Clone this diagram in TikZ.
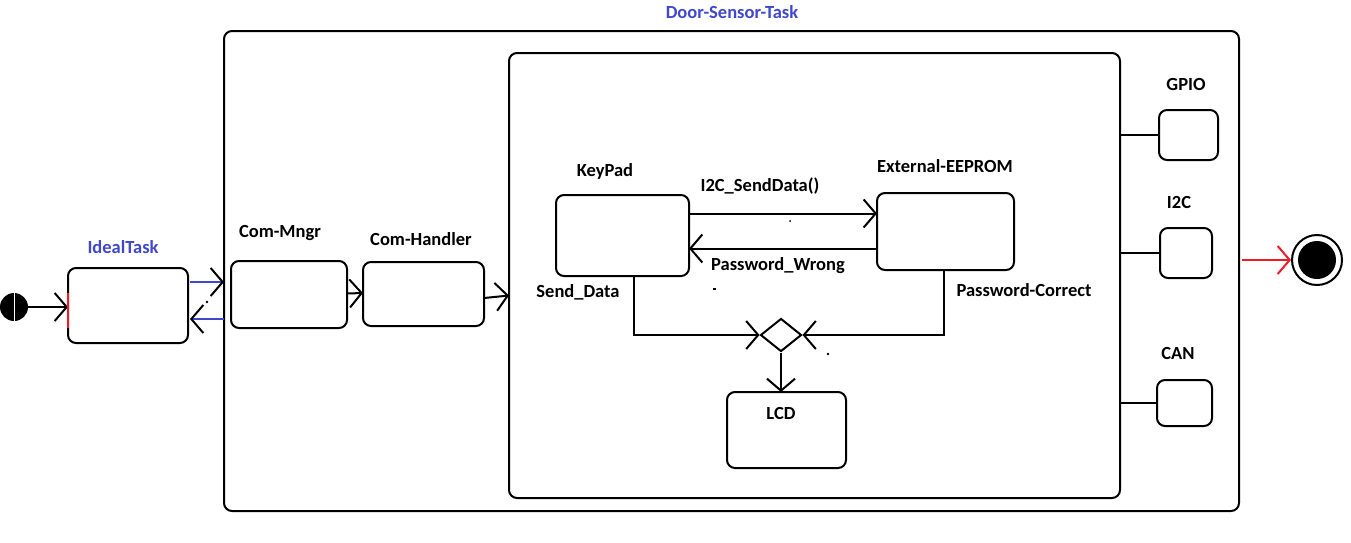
\documentclass[tikz,border=0pt]{standalone}
\usepackage{fontspec}
\setmainfont{Carlito}
\usetikzlibrary{arrows.meta,shapes.geometric}
\definecolor{pblue}{RGB}{63,72,204}
\definecolor{pred}{RGB}{237,28,36}
\tikzset{
  box/.style={draw, line width=2pt, rounded corners=8pt, inner sep=0pt, outer sep=0pt},
  lbl/.style={font=\fontsize{18.5}{22}\selectfont\bfseries, inner sep=0pt},
  con/.style={line width=2pt},
  tip/.style={-{Straight Barb[length=12pt,width=28pt,line width=2pt,#1]}},
  tip/.default={},
  arr/.style={line width=2pt, tip},
}
\begin{document}
\begin{tikzpicture}[x=1pt,y=-1pt]
\useasboundingbox (0,0) rectangle (1351,542);
% containers
\node[box, minimum width=1015pt, minimum height=480pt] (outer) at (731.5,271) {};
\node[box, minimum width=611pt, minimum height=445pt] (inner) at (814.5,275.5) {};
\node[lbl, text=pblue] (title) at (732,12) {Door-Sensor-Task};
% initial
\node[circle, fill=black, minimum size=28pt, inner sep=0pt] (init) at (14,307) {};
\draw[white, line width=1pt] (init.north) -- (init.south);
% states
\node[box, minimum width=120pt, minimum height=75pt] (ideal) at (128,305.5) {};
\node[lbl, text=pblue] (idealL) at (123,247) {IdealTask};
\node[box, minimum width=116pt, minimum height=67pt] (comm) at (289,294.5) {};
\node[lbl] (commL) at (280,233) {Com-Mngr};
\node[box, minimum width=121pt, minimum height=64pt] (comh) at (423.5,294) {};
\node[lbl] (comhL) at (421,239) {Com-Handler};
\node[box, minimum width=133pt, minimum height=81pt] (kp) at (622.5,235.5) {};
\node[lbl] (kpL) at (605,171) {KeyPad};
\node[box, minimum width=137pt, minimum height=77pt] (ee) at (945.5,231.5) {};
\node[lbl] (eeL) at (945,166) {External-EEPROM};
\node[box, minimum width=119pt, minimum height=76pt] (lcd) at (786.5,430) {};
\node[lbl] (lcdL) at (781,413) {LCD};
\node[draw, line width=2pt, diamond, minimum width=41pt, minimum height=33pt, inner sep=0pt] (dia) at (781,335) {};
\node[box, minimum width=59pt, minimum height=50pt] (gpio) at (1188.5,135) {};
\node[lbl] (gpioL) at (1186,84) {GPIO};
\node[box, minimum width=52pt, minimum height=50pt] (i2c) at (1186,253) {};
\node[lbl] (i2cL) at (1179,202) {I2C};
\node[box, minimum width=55pt, minimum height=46pt] (can) at (1184.5,403) {};
\node[lbl] (canL) at (1178,353) {CAN};
% final
\node[circle, draw, line width=2pt, minimum size=50pt, inner sep=0pt] (fin) at (1317,260) {};
\fill (fin.center) circle (19pt);
% connectors
\draw[arr] (init.east) -- (ideal.west |- init.east);
\draw[pred, line width=2pt] ([yshift=13pt]ideal.west) -- ([yshift=-22pt]ideal.west);
\draw[pblue, line width=2pt, tip={color=black}] ([yshift=23.5pt,xshift=2pt]ideal.east) -- ([yshift=-11pt]outer.west);
\draw[pblue, line width=2pt, tip={color=black}] ([yshift=-48pt]outer.west) -- ([yshift=-13.5pt,xshift=2pt]ideal.east);
\draw[arr] ([yshift=1pt]comm.east) -- ([yshift=1pt]comh.west);
\draw[arr] ([yshift=-4pt]comh.east) -- ([yshift=-20pt]inner.west);
\draw[arr] ([yshift=22pt]kp.east) -- ([yshift=18pt]ee.west);
\node[lbl] (sendL) at (760,186) {I2C\_SendData()};
\draw[arr] ([yshift=-17pt]ee.west) -- ([yshift=-13pt]kp.east);
\node[lbl] (wrongL) at (778,266) {Password\_Wrong};
\node[lbl] (sdL) at (578,292) {Send\_Data};
\draw[arr] ([xshift=11.5pt]kp.south) |- (dia.west);
\node[lbl] (pcL) at (1024,290) {Password-Correct};
\draw[arr] ([xshift=-1.5pt]ee.south) |- (dia.east);
\draw[arr] (dia.south) -- (dia.south |- lcd.north);
\draw[con] (gpio.west -| inner.east) -- (gpio.west);
\draw[con] (i2c.west -| inner.east) -- (i2c.west);
\draw[con] (can.west -| inner.east) -- (can.west);
\draw[pred, line width=2pt, tip, shorten <=3pt] (fin.west -| outer.east) -- (fin.west);
% small marks
\fill (207,302) circle (1.3pt);
\fill (790,221) circle (1pt);
\fill (713,288) rectangle (716,290);
\fill (828,354) circle (1.3pt);
\end{tikzpicture}
\end{document}
